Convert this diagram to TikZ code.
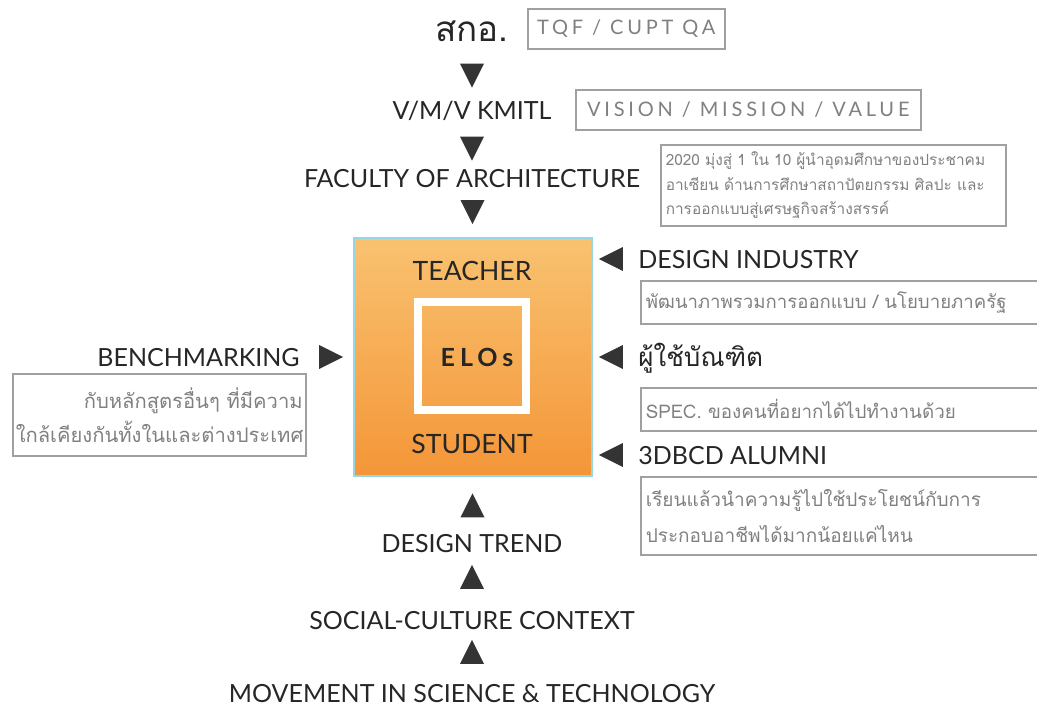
\documentclass[tikz,border=0pt]{standalone}
\usepackage{fontspec}
\setmainfont{Lato}
\newfontfamily\thaifont[Script=Thai]{Loma}
\newfontfamily\widefont[LetterSpace=19]{Lato}
\newfontfamily\elofont[LetterSpace=20]{Lato}
\usetikzlibrary{positioning,shapes.geometric,calc}
\definecolor{arrowgrey}{RGB}{52,52,52}
\definecolor{boxline}{RGB}{160,160,160}
\definecolor{boxtext}{RGB}{128,128,128}
\definecolor{orangetop}{RGB}{249,194,112}
\definecolor{orangebottom}{RGB}{244,150,56}
\definecolor{frameblue}{RGB}{150,214,236}
\begin{document}
\begin{tikzpicture}[x=0.5pt,y=-0.5pt,
    head/.style={inner sep=0,text height=9pt,text depth=0pt,text=black!85,font=\fontsize{12.5}{15}\selectfont},
    note/.style={draw=boxline,line width=0.75pt,inner sep=0,text=boxtext,anchor=north west},
    tri/.style={isosceles triangle,isosceles triangle stretches,fill=arrowgrey,inner sep=0,minimum width=12pt,minimum height=12pt},
    tri down/.style={tri,shape border rotate=-90},
    tri up/.style={tri,shape border rotate=90},
    tri left/.style={tri,shape border rotate=180},
    tri right/.style={tri}]
    \useasboundingbox (0,0) rectangle (1037,707);
    % chain from the top
    \node[head] (ska) at (472,32) {\thaifont\fontsize{17.5}{20}\selectfont สกอ.};
    \node[head] (vmv) at (472,110) {V/M/V KMITL};
    \node[head] (fac) at (472,178) {FACULTY OF ARCHITECTURE};
    \node[note,minimum width=98.5pt,minimum height=20pt] (tqf) at (527,8) {\widefont\fontsize{10}{12}\selectfont TQF / CUPT QA};
    \node[note,minimum width=172.5pt,minimum height=20pt] (vmvbox) at (575,89) {\widefont\fontsize{10}{12}\selectfont VISION / MISSION / VALUE};
    \node[note,text width=167.5pt,align=left,inner xsep=2.5pt,minimum height=40.5pt,font=\thaifont\fontsize{7.7}{12.25}\selectfont] (facbox) at (660,144)
        {\mbox{2020 มุ่งสู่ 1 ใน 10 ผู้นำอุดมศึกษาของประชาคม}\\\mbox{อาเซียน ด้านการศึกษาสถาปัตยกรรม ศิลปะ และ}\\\mbox{การออกแบบสู่เศรษฐกิจสร้างสรรค์}};
    % centre square
    \node[draw=frameblue,line width=0.75pt,top color=orangetop,bottom color=orangebottom,minimum size=119pt,inner sep=0] (core) at (473,357) {};
    \node[draw=white,line width=4pt,minimum size=54pt,inner sep=0] (frame) at (472,356) {};
    \node[head,font=\fontsize{13.3}{15}\selectfont] (teach) at (472,271) {TEACHER};
    \node[head,font=\fontsize{13.3}{15}\selectfont] (stud) at (472,444) {STUDENT};
    \node[head] (elo) at (477,357) {\elofont\bfseries\fontsize{12.5}{14}\selectfont ELOs};
    % right side
    \node[head,anchor=west] (ind) at (638,259) {DESIGN INDUSTRY};
    \node[head,anchor=west] (grad) at (638,357) {\thaifont\fontsize{13}{15}\selectfont ผู้ใช้บัณฑิต};
    \node[head,anchor=west] (alum) at (638,455) {3DBCD ALUMNI};
    \node[note,text width=210pt,align=left,inner xsep=2.5pt,minimum height=21.5pt,font=\thaifont\fontsize{9.3}{14}\selectfont] (indbox) at (640,280)
        {\mbox{พัฒนาภาพรวมการออกแบบ / นโยบายภาครัฐ}};
    \node[note,text width=210pt,align=left,inner xsep=2.5pt,minimum height=21.5pt,font=\thaifont\fontsize{9.4}{14}\selectfont] (gradbox) at (640,387)
        {\mbox{SPEC. ของคนที่อยากได้ไปทำงานด้วย}};
    \node[note,text width=210pt,align=left,inner xsep=2.5pt,minimum height=39pt,font=\thaifont\fontsize{9.5}{18}\selectfont] (alumbox) at (640,476)
        {\mbox{เรียนแล้วนำความรู้ไปใช้ประโยชน์กับการ}\\\mbox{ประกอบอาชีพได้มากน้อยแค่ไหน}};
    % left side
    \node[head,anchor=east] (bench) at (300,357) {BENCHMARKING};
    \node[note,text width=143.5pt,align=right,inner xsep=1.5pt,minimum height=41pt,font=\thaifont\fontsize{10.1}{17}\selectfont] (benchbox) at (12,373)
        {\mbox{กับหลักสูตรอื่นๆ ที่มีความ}\\\mbox{ใกล้เคียงกันทั้งในและต่างประเทศ}};
    % bottom
    \node[head] (trend) at (472,543) {DESIGN TREND};
    \node[head] (social) at (472,620) {SOCIAL-CULTURE CONTEXT};
    \node[head] (move) at (472,693) {MOVEMENT IN SCIENCE \& TECHNOLOGY};
    % arrows
    \path (ska) -- node[tri down]{} (vmv);
    \path (vmv) -- node[tri down]{} (fac);
    \path (fac.center) -- node[tri down]{} (core.north);
    \path (trend.center) -- node[tri up]{} (core.south);
    \path (social) -- node[tri up]{} (trend);
    \path (move) -- node[tri up]{} (social);
    \path (bench.east) -- node[tri right]{} (core.west);
    \path (ind.west) -- node[tri left]{} (ind.west -| core.east);
    \path (grad.west) -- node[tri left]{} (grad.west -| core.east);
    \path (alum.west) -- node[tri left]{} (alum.west -| core.east);
\end{tikzpicture}
\end{document}
